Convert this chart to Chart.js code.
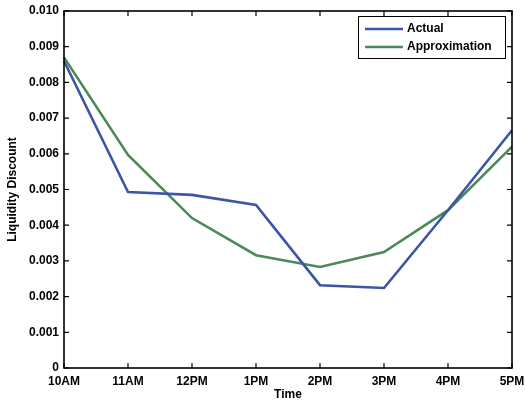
<!DOCTYPE html>
<html>
<head>
<meta charset="utf-8">
<script src="https://cdn.jsdelivr.net/npm/chart.js@4.4.0/dist/chart.umd.min.js"></script>
<style>
  html, body { margin: 0; padding: 0; background: #fff; }
  #wrap { width: 525px; height: 408px; }
</style>
</head>
<body>
<div id="wrap"><canvas id="chart" width="525" height="408"></canvas></div>
<script>
const hours = ['10AM', '11AM', '12PM', '1PM', '2PM', '3PM', '4PM', '5PM'];
const actual = [0.0086, 0.00493, 0.00485, 0.00457, 0.00232, 0.00224, 0.00442, 0.00666];
const approximation = [0.0087, 0.00597, 0.0042, 0.00316, 0.00283, 0.00325, 0.00442, 0.0062];
const yTicks = [0, 0.001, 0.002, 0.003, 0.004, 0.005, 0.006, 0.007, 0.008, 0.009, 0.010];

const FONT = 'Liberation Sans, Arial, sans-serif';

// box around the plot with inward ticks on all four sides
const framePlugin = {
  id: 'frame',
  afterDatasetsDraw(chart) {
    const { ctx, chartArea: a, scales } = chart;
    ctx.save();
    ctx.strokeStyle = '#000';
    ctx.lineWidth = 1.6;
    ctx.strokeRect(a.left, a.top, a.right - a.left, a.bottom - a.top);
    ctx.lineWidth = 1.2;
    ctx.beginPath();
    yTicks.forEach(v => {
      const y = scales.y.getPixelForValue(v);
      ctx.moveTo(a.left, y); ctx.lineTo(a.left + 5, y);
      ctx.moveTo(a.right, y); ctx.lineTo(a.right - 5, y);
    });
    hours.forEach((h, i) => {
      const x = scales.x.getPixelForValue(i);
      ctx.moveTo(x, a.bottom); ctx.lineTo(x, a.bottom - 5);
      ctx.moveTo(x, a.top); ctx.lineTo(x, a.top + 5);
    });
    ctx.stroke();
    ctx.restore();
  }
};

// boxed legend in the top right corner
const boxLegend = {
  id: 'boxLegend',
  afterDraw(chart) {
    const { ctx, chartArea: a } = chart;
    const w = 147, h = 42;
    const x0 = a.right - 7 - w, y0 = a.top + 5;
    ctx.save();
    ctx.fillStyle = '#fff';
    ctx.fillRect(x0, y0, w, h);
    ctx.strokeStyle = '#000';
    ctx.lineWidth = 1;
    ctx.strokeRect(x0 + 0.5, y0 + 0.5, w, h);
    ctx.font = 'bold 12px ' + FONT;
    ctx.textBaseline = 'middle';
    chart.data.datasets.forEach((ds, i) => {
      const y = y0 + 13 + i * 18;
      ctx.strokeStyle = ds.borderColor;
      ctx.lineWidth = 2.5;
      ctx.beginPath();
      ctx.moveTo(x0 + 7, y); ctx.lineTo(x0 + 45, y);
      ctx.stroke();
      ctx.fillStyle = '#000';
      ctx.fillText(ds.label, x0 + 49, y);
    });
    ctx.restore();
  }
};

new Chart(document.getElementById('chart'), {
  type: 'line',
  data: {
    labels: hours,
    datasets: [
      { label: 'Actual', data: actual, borderColor: '#3c55a6', borderWidth: 2.6, pointRadius: 0, tension: 0 },
      { label: 'Approximation', data: approximation, borderColor: '#4b8a58', borderWidth: 2.6, pointRadius: 0, tension: 0 }
    ]
  },
  options: {
    responsive: false,
    animation: false,
    layout: { padding: { top: 11, right: 13, left: 0, bottom: 0 } },
    plugins: { legend: { display: false }, tooltip: { enabled: false } },
    scales: {
      x: {
        offset: false,
        grid: { display: false, drawTicks: false },
        border: { display: false },
        ticks: { color: '#000', font: { family: FONT, size: 12, weight: 'bold' }, padding: 6, maxRotation: 0, autoSkip: false },
        title: { display: true, text: 'Time', color: '#000', font: { family: FONT, size: 12, weight: 'bold' }, padding: { top: 0, bottom: 6 } },
        afterFit(scale) {
          scale.height = 40;
          scale.paddingLeft = 0;
          scale.paddingRight = 0;
        }
      },
      y: {
        min: 0,
        max: 0.01,
        grid: { display: false, drawTicks: false },
        border: { display: false },
        afterBuildTicks(scale) { scale.ticks = yTicks.map(v => ({ value: v })); },
        ticks: {
          color: '#000',
          font: { family: FONT, size: 12, weight: 'bold' },
          padding: 5,
          callback: v => v === 0 ? '0' : v.toFixed(3)
        },
        title: { display: true, text: 'Liquidity Discount', color: '#000', font: { family: FONT, size: 12, weight: 'bold' }, padding: { top: 5, bottom: 2 } },
        afterFit(scale) {
          scale.width = 64;
          scale.paddingTop = 0;
          scale.paddingBottom = 0;
        }
      }
    }
  },
  plugins: [framePlugin, boxLegend]
});
</script>
</body>
</html>
